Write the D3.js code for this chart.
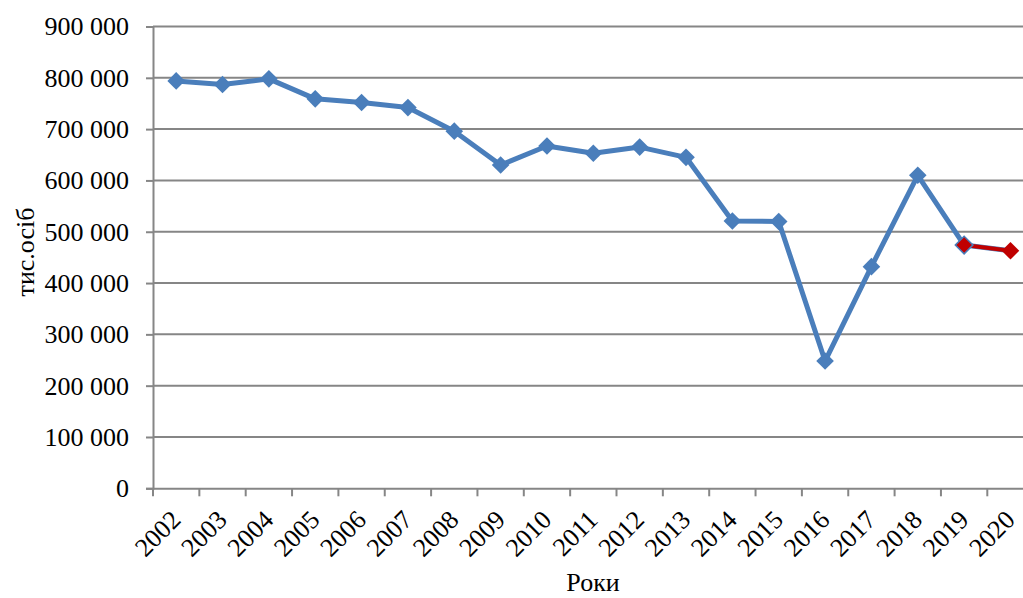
<!DOCTYPE html>
<html><head><meta charset="utf-8">
<script src="https://cdn.jsdelivr.net/npm/d3@7"></script>
<style>body{margin:0;background:#fff}svg{display:block}text{font-family:"Liberation Serif","Times New Roman",serif;fill:#000}</style>
</head><body><svg id="c" width="1023" height="598"></svg>
<script>
const years = ["2002","2003","2004","2005","2006","2007","2008","2009","2010","2011","2012","2013","2014","2015","2016","2017","2018","2019","2020"];
const values = [794000,787000,798000,759000,752000,742000,696000,630000,667000,653000,665000,645000,521000,520000,248000,432000,610000,474000,463000];
const forecastYears = ["2019","2020"];
const forecastValues = [474000,463000];
const yTicks = [0,100000,200000,300000,400000,500000,600000,700000,800000,900000];

(function(){
const svg = d3.select("#c");
const W = 1023;
const mLeft = 153, mTop = 26.5, mBottom = 488.3;
const band = 46.35;
const x = d3.scaleBand().domain(years).range([mLeft, mLeft + band*years.length]).padding(0);
const y = d3.scaleLinear().domain([0,900000]).range([mBottom, mTop]);
const fmt = v => d3.format(",")(v).replace(/,/g, " ");
const grid = "#868686";

svg.append("g").selectAll("line").data(yTicks.filter(d=>d>0)).join("line")
  .attr("x1", mLeft).attr("x2", W).attr("y1", d=>y(d)).attr("y2", d=>y(d))
  .attr("stroke", grid).attr("stroke-width", 2);

const ya = svg.append("g").attr("transform", `translate(${mLeft},0)`)
  .call(d3.axisLeft(y).tickValues(yTicks).tickFormat(fmt).tickSize(7).tickPadding(17));
ya.select(".domain").attr("stroke", grid).attr("stroke-width", 2);
ya.selectAll(".tick line").attr("stroke", grid).attr("stroke-width", 2);
ya.selectAll("text").attr("font-size", 26).attr("font-family", "Liberation Serif").attr("fill","#000");

const xa = svg.append("g").attr("transform", `translate(0,${mBottom})`)
  .call(d3.axisBottom(x).tickSize(0).tickFormat(""));
xa.select(".domain").attr("stroke", grid).attr("stroke-width", 2);
xa.append("g").selectAll("line").data(years).join("line")
  .attr("x1", d=>x(d)).attr("x2", d=>x(d)).attr("y1", 0).attr("y2", 8)
  .attr("stroke", grid).attr("stroke-width", 2);
xa.append("g").selectAll("text").data(years).join("text")
  .attr("transform", d => `translate(${x(d)+x.bandwidth()/2+6},${33}) rotate(-45)`)
  .attr("text-anchor", "end")
  .attr("font-size", 26).text(d=>d);

svg.append("text").attr("x", 593).attr("y", 591).attr("text-anchor","middle").attr("font-size", 26).text("Роки");
svg.append("text").attr("transform","translate(34,252) rotate(-90)").attr("text-anchor","middle").attr("font-size", 26).text("тис.осіб");

const cx = d => x(d) + x.bandwidth()/2;
const sq = d3.symbol().type(d3.symbolSquare).size(155);

svg.append("path").datum(years.map((d,i)=>[cx(d), y(values[i])]))
  .attr("d", d3.line()).attr("fill","none").attr("stroke","#4A7EBB").attr("stroke-width",5).attr("stroke-linejoin","round");
svg.append("g").selectAll("path").data(years.slice(0,18)).join("path")
  .attr("d", sq).attr("fill","#4A7EBB")
  .attr("transform", (d,i)=>`translate(${cx(d)},${y(values[i])}) rotate(45)`);

svg.append("path").datum(forecastYears.map((d,i)=>[cx(d), y(forecastValues[i])]))
  .attr("d", d3.line()).attr("fill","none").attr("stroke","#C00000").attr("stroke-width",4);
svg.append("g").selectAll("path").data(forecastYears).join("path")
  .attr("d", sq)
  .attr("transform", (d,i)=>`translate(${cx(d)},${y(forecastValues[i])}) rotate(45)`)
  .attr("fill","#C00000").attr("stroke", (d,i)=> i===0 ? "#4A7EBB" : "none").attr("stroke-width",1.5);
})();
</script></body></html>
